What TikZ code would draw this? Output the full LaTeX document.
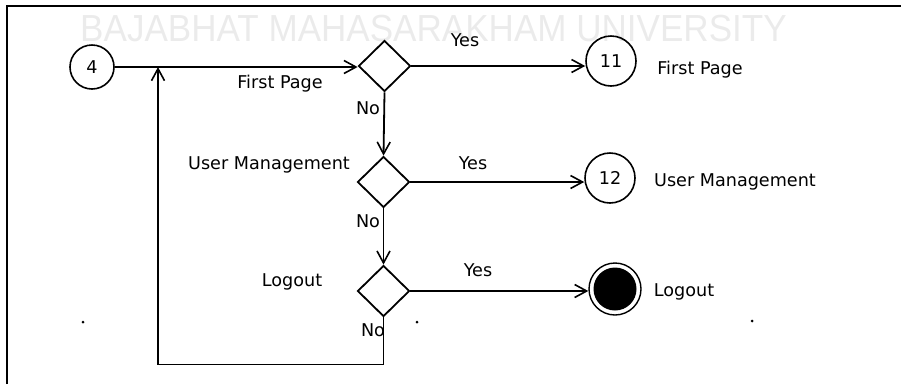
\documentclass[tikz,border=0pt]{standalone}
\usepackage{fontspec}
\usepackage{graphicx}
\setmainfont{DejaVu Sans}
\newfontfamily\markfont{Liberation Sans}
\usetikzlibrary{shapes.geometric,arrows.meta}

\tikzset{
  flow/.style={line width=1.8pt, -{Straight Barb[length=12pt,width=13pt,line width=1.6pt]}},
  plain/.style={line width=1.8pt},
  state/.style={circle, draw, line width=1.6pt, inner sep=0pt},
  decide/.style={diamond, draw, line width=1.8pt, inner sep=0pt, minimum width=52pt, minimum height=51pt},
  lbl/.style={inner sep=0pt, font=\fontsize{17.6}{20}\selectfont},
  speck/.style={fill=black, circle, inner sep=0pt, minimum size=3pt}
}

\begin{document}
\begin{tikzpicture}[x=1pt, y=-1pt]
\useasboundingbox (0,0) rectangle (901,384);

% faint university watermark behind the chart
\node[inner sep=0pt, text=black!8] (mark) at (433.5,28.5)
  {\scalebox{0.93}[1]{\markfont\fontsize{37.7}{40}\selectfont BAJABHAT MAHASARAKHAM UNIVERSITY}};

% page frame (top and left edges)
\draw[plain] (7,384) -- (7,6) -- (901,6);

% states and decisions
\node[state, minimum size=44pt, lbl] (c4) at (92,67) {4};
\node[decide] (d1) at (384.5,66) {};
\node[decide] (d2) at (383.5,182) {};
\node[decide] (d3) at (383.5,291) {};
\node[state, minimum size=50pt, lbl] (c11) at (611,61) {11};
\node[state, minimum size=50pt, lbl] (c12) at (610,178) {12};
\node[state, minimum size=52pt, line width=1.4pt,
  path picture={\fill (path picture bounding box.center) circle (21.5pt);}] (stop) at (615,289) {};

% labels
\node[lbl] (fpL) at (280,84) {First Page};
\node[lbl] (y1) at (465,40) {Yes};
\node[lbl] (fpR) at (700,70) {First Page};
\node[lbl] (n1) at (368,108) {No};
\node[lbl] (umL) at (269,165) {User Management};
\node[lbl] (y2) at (473,163) {Yes};
\node[lbl] (umR) at (735,182) {User Management};
\node[lbl] (n2) at (368,221) {No};
\node[lbl] (loL) at (292,282) {Logout};
\node[lbl] (y3) at (478,270) {Yes};
\node[lbl] (loR) at (684,292) {Logout};
\node[lbl] (n3) at (373,330) {No};

% stray specks on the page
\node[speck] (s1) at (83,322) {};
\node[speck] (s2) at (417,322) {};
\node[speck] (s3) at (752,321) {};

% connectors
\coordinate (back) at (158,67);
\draw[flow] (c4.east) -- (c4.east -| d1.west);
\draw[flow] (d1.east) -- (d1.east -| c11.west);
\draw[flow] (d1.south) -- (d2.north);
\draw[flow] (d2.east) -- (d2.east -| c12.west);
\draw[flow] (d2.south) -- (d3.north);
\draw[flow] (d3.east) -- (d3.east -| stop.west);
\draw[flow] (d3.south) -- ++(0,47) -| (back);
\end{tikzpicture}
\end{document}
